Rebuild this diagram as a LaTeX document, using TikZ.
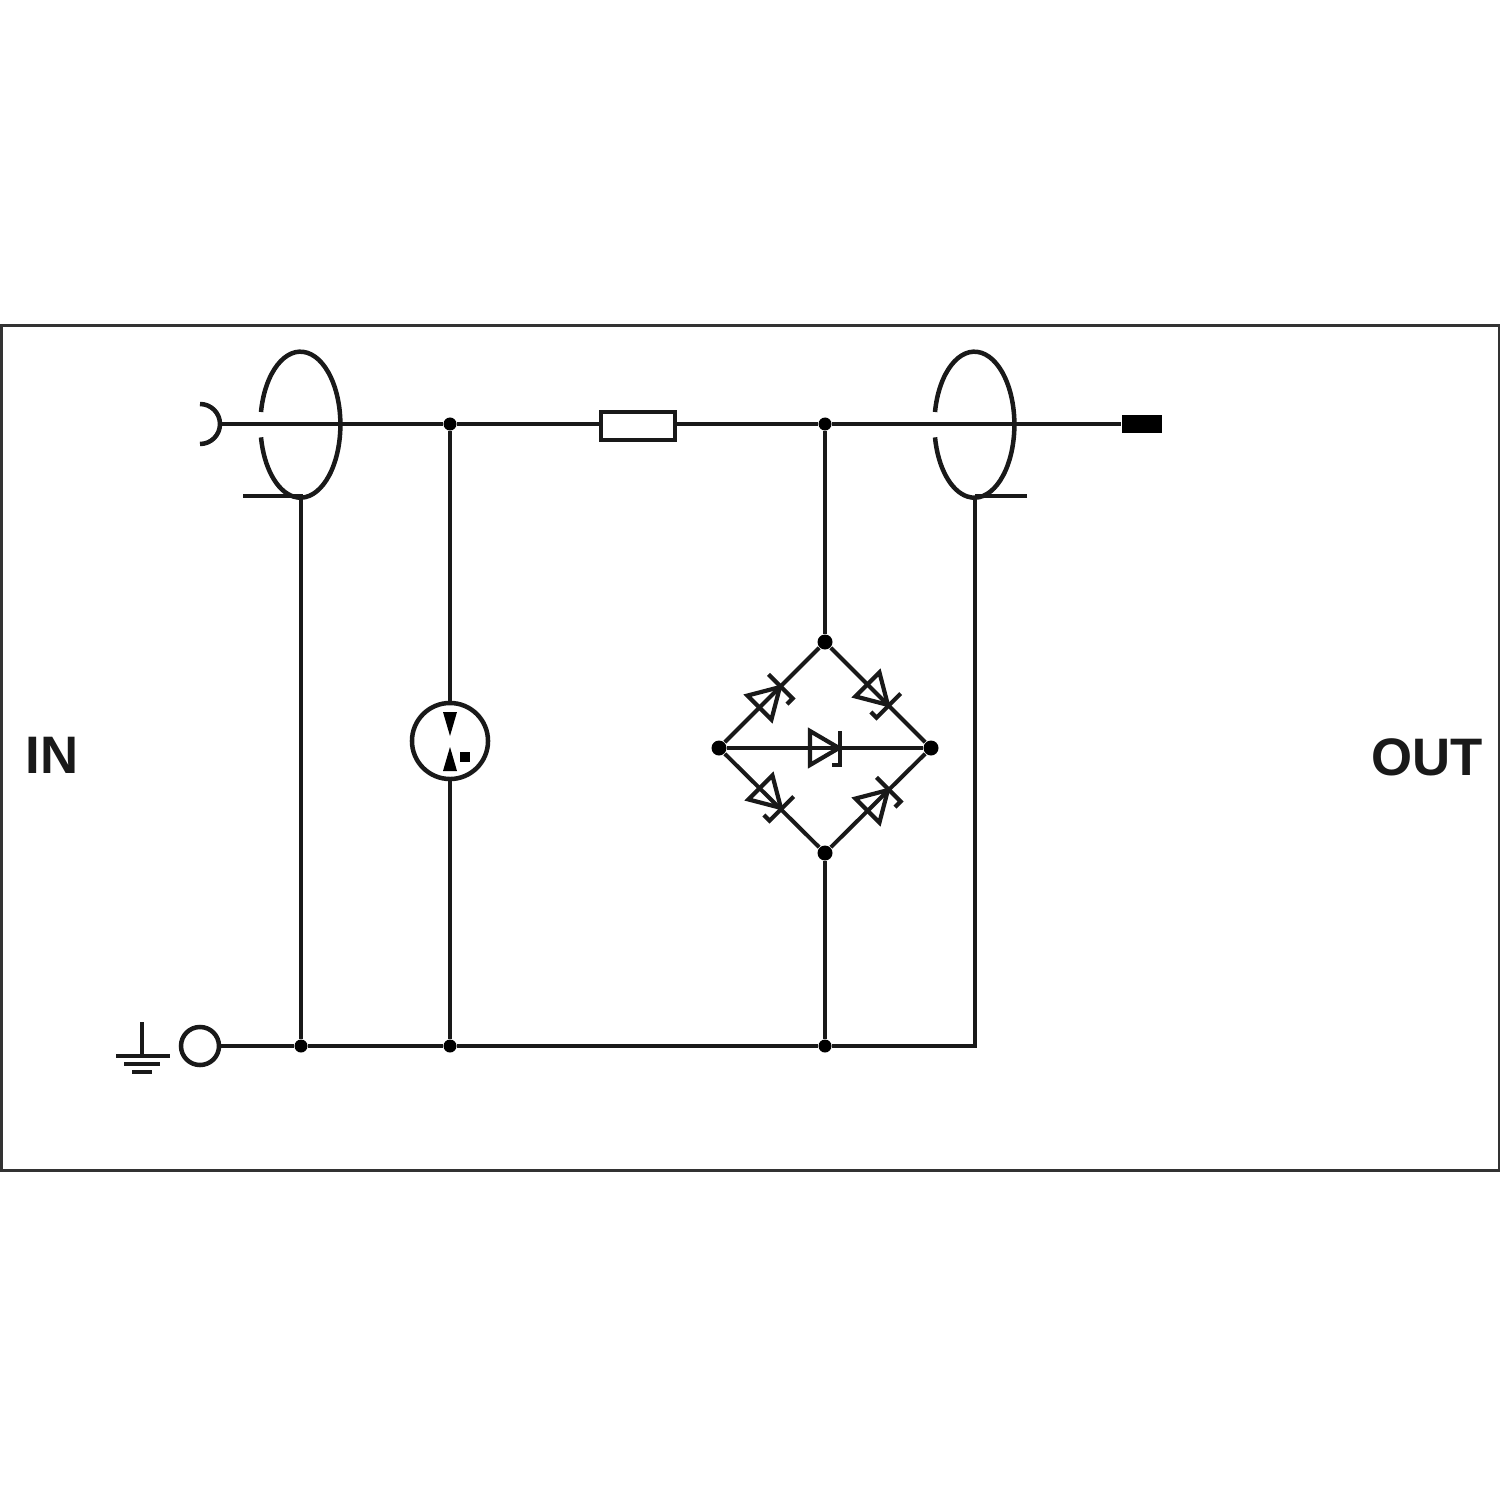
\documentclass[tikz,border=0pt]{standalone}
\usepackage{fontspec}
\setmainfont{Liberation Sans}
\tikzset{
	zdiode/.pic={
		\draw[diodeline] (-15,-17) -- (-15,17) -- (14,0) -- cycle;
		\draw[diodeline] (7,17) -- (15,17) -- (15,-17);
	}
}
\begin{document}
\begin{tikzpicture}[
	x=0.01cm,y=-0.01cm,
	wire/.style={draw=black!90,line width=0.045cm},
	thinwire/.style={draw=black!90,line width=0.04cm},
	diodeline/.style={draw=black!90,line width=0.042cm,line join=miter},
	junction/.style={circle,fill=black,inner sep=0pt,minimum size=0.13cm},
	bigjunction/.style={circle,fill=black,inner sep=0pt,minimum size=0.15cm},
	resistor/.style={rectangle,draw=black!90,line width=0.04cm,fill=white,inner sep=0pt,minimum width=0.74cm,minimum height=0.27cm},
	plugend/.style={rectangle,fill=black,inner sep=0pt,minimum width=0.4cm,minimum height=0.18cm},
	terminal/.style={circle,draw=black!90,line width=0.045cm,fill=white,inner sep=0pt,minimum size=0.38cm},
	tube/.style={circle,draw=black!90,line width=0.045cm,inner sep=0pt,minimum size=0.76cm},
	sidelabel/.style={font=\bfseries\fontsize{15}{15}\selectfont,text=black!90,inner sep=0pt}
]
\useasboundingbox (0,0) rectangle (1500,1500);

% Frame
\draw[black!80,line width=0.03cm] (1,325) rectangle (1499,1170);

% Labels
\node[sidelabel] (in) at (52,755) {IN};
\node[sidelabel] (out) at (1427,757) {OUT};

% Top line
\coordinate (socket) at (221,424);
\node[junction] (top1) at (450,424) {};
\node[resistor] (res) at (638,426) {};
\node[junction] (top2) at (825,424) {};
\node[plugend] (plug) at (1142,424) {};

% Bottom line
\node[terminal] (gnd) at (200,1046) {};
\node[junction] (bot1) at (301,1046) {};
\node[junction] (bot2) at (450,1046) {};
\node[junction] (bot3) at (825,1046) {};
\coordinate (corner) at (975,1046);

% Rings
\coordinate (ringin) at (301,496);
\coordinate (ringout) at (975,496);
\coordinate (barin) at (243,496);
\coordinate (barout) at (1027,496);

% Tube
\node[tube] (gdt) at (450,741) {};

% Bridge
\node[bigjunction] (brtop) at (825,642) {};
\node[bigjunction] (brleft) at (719,748) {};
\node[bigjunction] (brright) at (931,748) {};
\node[bigjunction] (brbot) at (825,853) {};

% Wires
\draw[wire] (socket) -- (top1) -- (res.west |- top1);
\draw[wire] (res.east |- top2) -- (top2) -- (plug);
\draw[wire] (gnd) -- (bot1) -- (bot2) -- (bot3) -- (corner) -- (ringout);
\draw[wire] (barin) -- (ringin) -- (bot1);
\draw[wire] (barout) -- (ringout);
\draw[wire] (top1) -- (gdt);
\draw[wire] (gdt) -- (bot2);
\draw[wire] (top2) -- (brtop);
\draw[wire] (brbot) -- (bot3);
\draw[thinwire] (brtop) -- (brleft) -- (brbot) -- (brright) -- (brtop);
\draw[thinwire] (brleft) -- (brright);

% Socket and rings
\draw[wire] (200,404) arc[start angle=-90,end angle=90,radius=20];
\draw[wire] (261,412) arc[start angle=190,end angle=530,x radius=40,y radius=73];
\draw[wire] (935,412) arc[start angle=190,end angle=530,x radius=40,y radius=73];

% Ground
\draw[wire] (142,1022) -- (142,1056);
\draw[wire] (116,1056) -- (170,1056);
\draw[wire] (124,1064) -- (160,1064);
\draw[wire] (132,1072) -- (152,1072);

% Tube electrodes
\fill[black] (443,712) -- (457,712) -- (450,736) -- cycle;
\fill[black] (443,771) -- (457,771) -- (450,747) -- cycle;
\fill[black] (460,752) rectangle (470,762);

% Diodes
\pic[rotate=45] at (770,697) {zdiode};
\pic[rotate=-45] at (878,695) {zdiode};
\pic at (825,748) {zdiode};
\pic[rotate=-45] at (771,798) {zdiode};
\pic[rotate=45] at (878,800) {zdiode};

\end{tikzpicture}
\end{document}
